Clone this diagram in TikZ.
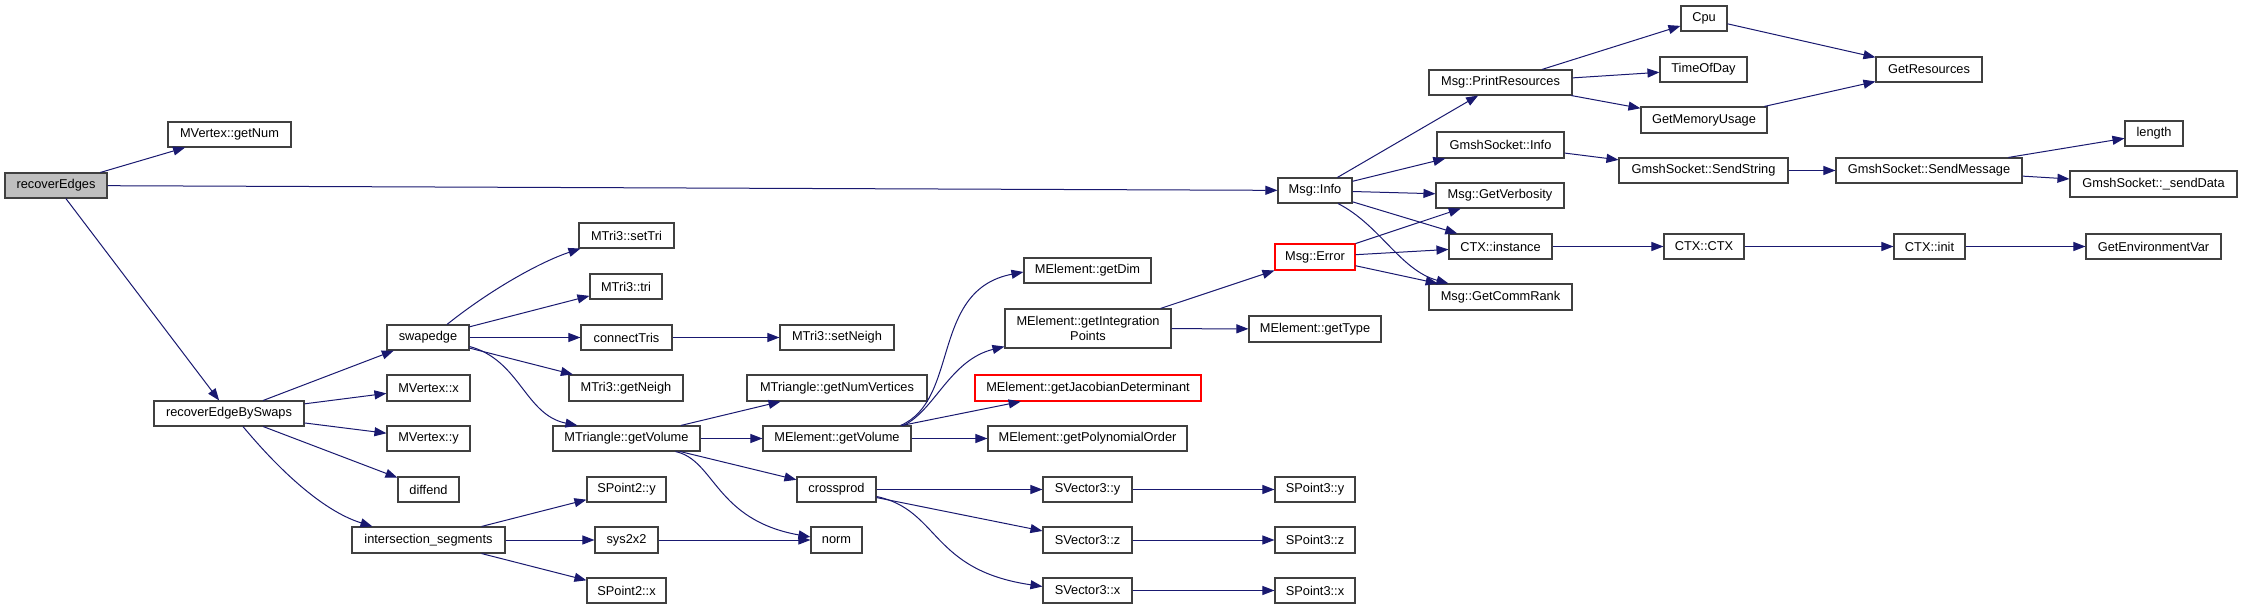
\documentclass[tikz,border=0pt]{standalone}
\usepackage{fontspec}
\setmainfont{Liberation Sans}
\usetikzlibrary{arrows.meta,calc}
\definecolor{edgecol}{HTML}{191970}
\definecolor{boxcol}{HTML}{404040}
\definecolor{rootfill}{HTML}{BFBFBF}
\begin{document}
\begin{tikzpicture}[x=1pt,y=-1pt,
  box/.style={draw=boxcol,line width=1.1pt,fill=white,inner sep=0pt,align=center,
    font=\fontsize{12.8}{15.5}\selectfont},
  redbox/.style={box,draw=red},
  arr/.style={draw=edgecol,line width=1pt,-{Triangle[length=12pt,width=9pt]}}]
\fill[white] (0,0) rectangle (2243,609);
\useasboundingbox (0,0) rectangle (2243,609);
% column 1
\node[box,fill=rootfill,minimum width=102pt,minimum height=25pt] (re) at (56,185.5) {recoverEdges};
% column 2
\node[box,minimum width=123pt,minimum height=25pt] (gn) at (229.5,134.5) {MVertex::getNum};
\node[box,minimum width=150pt,minimum height=25pt] (rebs) at (229,413.5) {recoverEdgeBySwaps};
% column 3
\node[box,minimum width=82pt,minimum height=25pt] (sw) at (428,337.5) {swapedge};
\node[box,minimum width=83pt,minimum height=26pt] (mvx) at (428.5,388) {MVertex::x};
\node[box,minimum width=83pt,minimum height=25pt] (mvy) at (428.5,438.5) {MVertex::y};
\node[box,minimum width=61pt,minimum height=25pt] (df) at (428.5,489.5) {diffend};
\node[box,minimum width=153pt,minimum height=26pt] (is) at (428.5,540) {intersection\_segments};
% column 4
\node[box,minimum width=95pt,minimum height=25pt] (st) at (626.5,235.5) {MTri3::setTri};
\node[box,minimum width=72pt,minimum height=25pt] (tri) at (626,286.5) {MTri3::tri};
\node[box,minimum width=91pt,minimum height=25pt] (ct) at (626.5,337.5) {connectTris};
\node[box,minimum width=114pt,minimum height=26pt] (gnb) at (626,388) {MTri3::getNeigh};
\node[box,minimum width=147pt,minimum height=25pt] (tgv) at (626.5,438.5) {MTriangle::getVolume};
\node[box,minimum width=79pt,minimum height=25pt] (p2y) at (626.5,489.5) {SPoint2::y};
\node[box,minimum width=63pt,minimum height=26pt] (sys) at (626.5,540) {sys2x2};
\node[box,minimum width=79pt,minimum height=25pt] (p2x) at (626.5,590.5) {SPoint2::x};
% column 5
\node[box,minimum width=114pt,minimum height=25pt] (sn) at (837,337.5) {MTri3::setNeigh};
\node[box,minimum width=180pt,minimum height=26pt] (gnv) at (837,388) {MTriangle::getNumVertices};
\node[box,minimum width=148pt,minimum height=25pt] (egv) at (837,438.5) {MElement::getVolume};
\node[box,minimum width=79pt,minimum height=25pt] (cp) at (836.5,489.5) {crossprod};
\node[box,minimum width=51pt,minimum height=26pt] (nrm) at (836.5,540) {norm};
% column 6
\node[box,minimum width=127pt,minimum height=25pt] (gd) at (1087.5,270.5) {MElement::getDim};
\node[box,minimum width=166pt,minimum height=39pt] (gip) at (1088,328.5) {MElement::getIntegration\\Points};
\node[redbox,minimum width=226pt,minimum height=26pt] (gjd) at (1088,388) {MElement::getJacobianDeterminant};
\node[box,minimum width=199pt,minimum height=25pt] (gpo) at (1087.5,438.5) {MElement::getPolynomialOrder};
\node[box,minimum width=89pt,minimum height=25pt] (v3y) at (1087.5,489.5) {SVector3::y};
\node[box,minimum width=89pt,minimum height=26pt] (v3z) at (1087.5,540) {SVector3::z};
\node[box,minimum width=89pt,minimum height=25pt] (v3x) at (1087.5,590.5) {SVector3::x};
% column 7
\node[box,minimum width=74pt,minimum height=25pt] (mi) at (1315,190.5) {Msg::Info};
\node[redbox,minimum width=80pt,minimum height=26pt] (me) at (1315,257) {Msg::Error};
\node[box,minimum width=132pt,minimum height=26pt] (gt) at (1315,329) {MElement::getType};
\node[box,minimum width=80pt,minimum height=25pt] (p3y) at (1315,489.5) {SPoint3::y};
\node[box,minimum width=80pt,minimum height=26pt] (p3z) at (1315,540) {SPoint3::z};
\node[box,minimum width=80pt,minimum height=25pt] (p3x) at (1315,590.5) {SPoint3::x};
% column 8
\node[box,minimum width=143pt,minimum height=25pt] (pr) at (1500.5,82.5) {Msg::PrintResources};
\node[box,minimum width=127pt,minimum height=26pt] (gsi) at (1500.5,145) {GmshSocket::Info};
\node[box,minimum width=128pt,minimum height=25pt] (gv) at (1500,195.5) {Msg::GetVerbosity};
\node[box,minimum width=103pt,minimum height=25pt] (ci) at (1500.5,246.5) {CTX::instance};
\node[box,minimum width=143pt,minimum height=26pt] (gcr) at (1500.5,297) {Msg::GetCommRank};
% column 9
\node[box,minimum width=46pt,minimum height=25pt] (cpu) at (1704,18.5) {Cpu};
\node[box,minimum width=87pt,minimum height=25pt] (tod) at (1703.5,69.5) {TimeOfDay};
\node[box,minimum width=126pt,minimum height=26pt] (gmu) at (1704,120) {GetMemoryUsage};
\node[box,minimum width=169pt,minimum height=25pt] (ss) at (1703.5,170.5) {GmshSocket::SendString};
\node[box,minimum width=80pt,minimum height=25pt] (cc) at (1704,246.5) {CTX::CTX};
% column 10
\node[box,minimum width=106pt,minimum height=25pt] (gr) at (1929,69.5) {GetResources};
\node[box,minimum width=186pt,minimum height=25pt] (sm) at (1929,170.5) {GmshSocket::SendMessage};
\node[box,minimum width=71pt,minimum height=25pt] (cin) at (1929.5,246.5) {CTX::init};
% column 11
\node[box,minimum width=58pt,minimum height=25pt] (len) at (2154,133.5) {length};
\node[box,minimum width=167pt,minimum height=26pt] (sd) at (2153.5,184) {GmshSocket::\_sendData};
\node[box,minimum width=135pt,minimum height=25pt] (gev) at (2153.5,246.5) {GetEnvironmentVar};

% edges
\draw[arr] (re) -- (gn);
\draw[arr] (re) -- (mi);
\draw[arr] (re) -- (rebs);
\draw[arr] (rebs) -- (sw);
\draw[arr] (rebs) -- (mvx);
\draw[arr] (rebs) -- (mvy);
\draw[arr] (rebs) -- (df);
\draw[arr] ($(rebs.south)+(14,0)$) .. controls (275,465) and (320,510) .. ($(is.north west)+(21,0)$);
\draw[arr] ($(sw.north)+(19,0)$) .. controls (490,290) and (540,262) .. ($(st.south west)+(2,0)$);
\draw[arr] (sw) -- (tri);
\draw[arr] (sw) -- (ct);
\draw[arr] (sw) -- (gnb);
\draw[arr] ($(sw.east)+(0,9)$) .. controls (520,360) and (525,415) .. ($(tgv.north west)+(25,0)$);
\draw[arr] (ct) -- (sn);
\draw[arr] (tgv) -- (gnv);
\draw[arr] (tgv) -- (egv);
\draw[arr] (tgv) -- (cp);
\draw[arr] ($(tgv.south)+(49,0)$) .. controls (715,460) and (715,520) .. ($(nrm.west)+(0,-3)$);
\draw[arr] (is) -- (p2y);
\draw[arr] (is) -- (sys);
\draw[arr] (is) -- (p2x);
\draw[arr] (sys) -- (nrm);
\draw[arr] ($(egv.north east)+(-11,0)$) .. controls (960,400) and (930,290) .. ($(gd.west)+(0,1.5)$);
\draw[arr] ($(egv.north east)+(-8,0)$) .. controls (935,410) and (950,360) .. ($(gip.south west)+(0,-2)$);
\draw[arr] (egv) -- (gjd);
\draw[arr] (egv) -- (gpo);
\draw[arr] ($(gip.north east)+(-11,0)$) -- (me);
\draw[arr] (gip) -- (gt);
\draw[arr] (cp) -- (v3y);
\draw[arr] (cp) -- (v3z);
\draw[arr] ($(cp.east)+(0,7)$) .. controls (940,510) and (930,570) .. ($(v3x.west)+(0,-4)$);
\draw[arr] (v3y) -- (p3y);
\draw[arr] (v3z) -- (p3z);
\draw[arr] (v3x) -- (p3x);
\draw[arr] (mi) -- (pr);
\draw[arr] (mi) -- (gsi);
\draw[arr] (mi) -- (gv);
\draw[arr] (mi) -- (ci);
\draw[arr] ($(mi.south)+(23,0)$) .. controls (1380,225) and (1400,270) .. ($(gcr.north west)+(20,0)$);
\draw[arr] (me) -- (gv);
\draw[arr] (me) -- (ci);
\draw[arr] (me) -- (gcr);
\draw[arr] (pr) -- (cpu);
\draw[arr] (pr) -- (tod);
\draw[arr] (pr) -- (gmu);
\draw[arr] (cpu) -- (gr);
\draw[arr] (gmu) -- (gr);
\draw[arr] (gsi) -- (ss);
\draw[arr] (ss) -- (sm);
\draw[arr] (sm) -- (len);
\draw[arr] (sm) -- (sd);
\draw[arr] (ci) -- (cc);
\draw[arr] (cc) -- (cin);
\draw[arr] (cin) -- (gev);
\end{tikzpicture}
\end{document}
